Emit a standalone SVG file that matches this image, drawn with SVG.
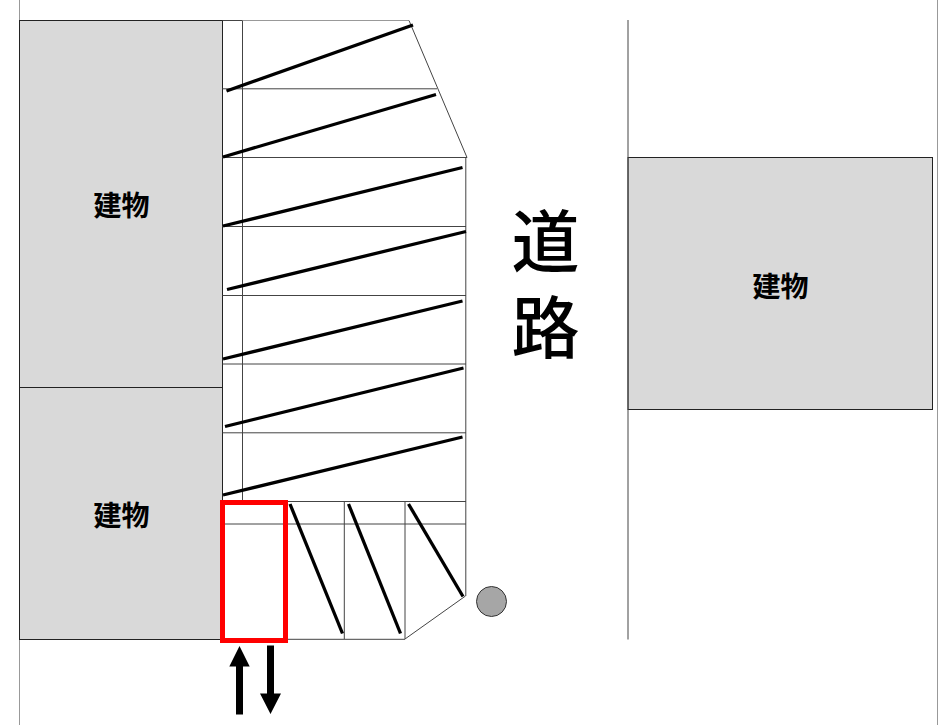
<svg xmlns="http://www.w3.org/2000/svg" width="940" height="725" viewBox="0 0 940 725">
<style>
.bld{fill:#d9d9d9;stroke:#222;stroke-width:1}
.ln{fill:none;stroke:#444;stroke-width:1}
.gl{fill:none;stroke:#999;stroke-width:1}
.st{fill:none;stroke:#000;stroke-width:3.300}
.lbl{font-family:"Liberation Sans","Noto Sans CJK JP",sans-serif;font-weight:700;font-size:28px;fill:#000;text-anchor:middle}
.road{font-family:"Liberation Sans","Noto Sans CJK JP",sans-serif;font-weight:500;font-size:68px;fill:#000;text-anchor:middle}
</style>
<rect width="940" height="725" fill="#fff"/>
<g id="page-edges">
<line class="gl" x1="19.5" y1="0" x2="19.5" y2="725"/>
<line class="gl" x1="937.5" y1="0" x2="937.5" y2="725"/>
</g>
<g id="building-1"><rect class="bld" x="19.5" y="20.5" width="203" height="367"/><text class="lbl" x="121.500" y="216">建物</text></g>
<g id="building-2"><rect class="bld" x="19.5" y="387.500" width="203" height="252"/><text class="lbl" x="121.500" y="526">建物</text></g>
<g id="building-3"><rect class="bld" x="628" y="157.500" width="304.500" height="252"/><text class="lbl" x="780.500" y="297">建物</text></g>
<g id="road"><line class="ln" x1="628" y1="20" x2="628" y2="639.500"/>
<text class="road" x="545.500" y="267">道</text><text class="road" x="545.500" y="353">路</text></g>
<g id="parking-grid">
<line class="ln" x1="222.500" y1="20.500" x2="242.500" y2="20.500"/>
<line class="gl" x1="242.500" y1="20.500" x2="409" y2="20.500"/>
<line class="ln" x1="242.500" y1="20.500" x2="242.500" y2="502"/>
<line class="ln" x1="409" y1="20.500" x2="467" y2="157.500"/>
<line class="ln" x1="222.500" y1="88.800" x2="437" y2="88.800"/>
<line class="ln" x1="222.500" y1="157.500" x2="467" y2="157.500"/>
<line class="ln" x1="222.500" y1="226.500" x2="466" y2="226.500"/>
<line class="ln" x1="222.500" y1="295.500" x2="466" y2="295.500"/>
<line class="ln" x1="222.500" y1="364" x2="466" y2="364"/>
<line class="ln" x1="222.500" y1="432.800" x2="466" y2="432.800"/>
<line class="ln" x1="222.500" y1="501.500" x2="466" y2="501.500"/>
<line class="ln" x1="222.500" y1="524" x2="466" y2="524"/>
<line class="ln" x1="465.800" y1="157.500" x2="465.800" y2="596"/>
<line class="ln" x1="344.300" y1="501.500" x2="344.300" y2="639"/>
<line class="ln" x1="405" y1="501.500" x2="405" y2="639"/>
<line class="ln" x1="405" y1="639" x2="465.500" y2="596"/>
<line class="ln" x1="222.500" y1="639.300" x2="405" y2="639.300"/>
</g>
<g id="parking-strokes">
<line class="st" x1="226.500" y1="91" x2="413" y2="25"/>
<line class="st" x1="223" y1="157" x2="436" y2="94.500"/>
<line class="st" x1="223" y1="226" x2="462.500" y2="167.500"/>
<line class="st" x1="227" y1="289.500" x2="466" y2="231.500"/>
<line class="st" x1="223" y1="359" x2="462.500" y2="301"/>
<line class="st" x1="225" y1="426.500" x2="463.500" y2="368"/>
<line class="st" x1="223" y1="495" x2="462.500" y2="437"/>
<line class="st" x1="290" y1="504" x2="342.500" y2="633.500"/>
<line class="st" x1="348.500" y1="504" x2="400.500" y2="633.500"/>
<line class="st" x1="408.500" y1="504" x2="463" y2="596.500"/>
</g>
<g id="marker-circle"><circle cx="491.500" cy="601.500" r="15" fill="#a6a6a6" stroke="#333" stroke-width="1"/></g>
<g id="highlight"><rect x="222.500" y="502.500" width="63" height="138" fill="none" stroke="#f00" stroke-width="5"/></g>
<g id="arrows">
<path id="arrow-up" d="M229.300 666.500L239.500 646L249.700 666.500H243V714.500H236V666.500Z" fill="#000"/>
<path id="arrow-down" d="M267 645.500H274V693.500H281L270.500 714L260 693.500H267Z" fill="#000"/>
</g>
</svg>
